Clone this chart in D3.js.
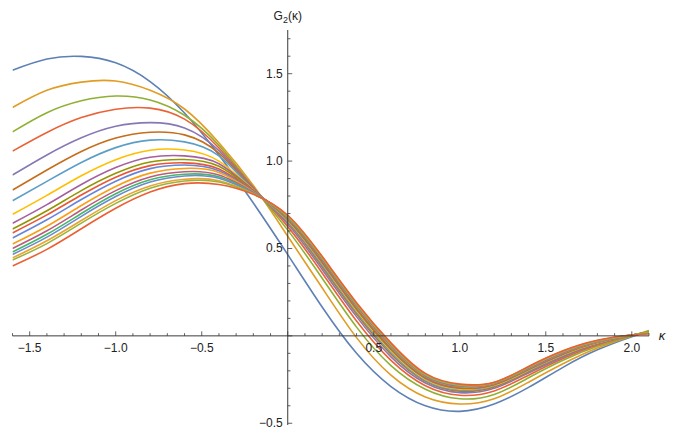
<!DOCTYPE html>
<html><head><meta charset="utf-8">
<script src="https://cdn.jsdelivr.net/npm/d3@7"></script>
<style>html,body{margin:0;padding:0;background:#fff;} svg{display:block;}</style>
</head><body><svg id="chart" width="673" height="429"></svg>
<script>
const kappa = [-1.6,-1.4,-1.2,-1.0,-0.8,-0.6,-0.4,-0.2,0,0.2,0.4,0.6,0.8,1.0,1.2,1.4,1.6,1.8,2.0,2.1];
const g1  = [1.52,1.584,1.599,1.562,1.455,1.275,1.035,0.76,0.465,0.165,-0.10,-0.29,-0.40,-0.432,-0.39,-0.295,-0.18,-0.08,-0.005,0.025];
const g2  = [1.307,1.405,1.452,1.458,1.405,1.298,1.105,0.86,0.57,0.275,-0.01,-0.225,-0.35,-0.39,-0.36,-0.265,-0.16,-0.07,0.0,0.025];
const g3  = [1.167,1.277,1.345,1.372,1.35,1.262,1.09,0.85,0.605,0.33,0.05,-0.17,-0.305,-0.36,-0.335,-0.24,-0.14,-0.06,0.0,0.03];
const g4  = [1.057,1.164,1.249,1.297,1.303,1.24,1.075,0.848,0.625,0.36,0.085,-0.14,-0.285,-0.34,-0.315,-0.225,-0.13,-0.052,0.002,0.022];
const g5  = [0.92,1.035,1.133,1.199,1.22,1.19,1.06,0.845,0.64,0.38,0.11,-0.12,-0.27,-0.325,-0.30,-0.212,-0.122,-0.047,0.003,0.02];
const g6  = [0.834,0.949,1.055,1.132,1.165,1.15,1.045,0.84,0.65,0.395,0.125,-0.105,-0.26,-0.316,-0.292,-0.205,-0.115,-0.043,0.003,0.02];
const g7  = [0.773,0.884,0.992,1.077,1.12,1.11,1.03,0.835,0.655,0.405,0.135,-0.095,-0.255,-0.31,-0.287,-0.2,-0.111,-0.041,0.004,0.018];
const g8  = [0.695,0.804,0.916,1.008,1.062,1.063,1.0,0.835,0.66,0.415,0.145,-0.085,-0.248,-0.304,-0.283,-0.196,-0.108,-0.039,0.004,0.018];
const g9  = [0.644,0.751,0.866,0.963,1.022,1.03,0.985,0.833,0.665,0.42,0.152,-0.078,-0.243,-0.30,-0.279,-0.193,-0.105,-0.037,0.004,0.017];
const g10 = [0.611,0.716,0.831,0.93,0.995,1.009,0.97,0.83,0.668,0.425,0.157,-0.073,-0.239,-0.297,-0.277,-0.191,-0.103,-0.036,0.004,0.017];
const g11 = [0.589,0.692,0.806,0.908,0.974,0.99,0.955,0.828,0.672,0.43,0.162,-0.068,-0.236,-0.294,-0.275,-0.189,-0.101,-0.035,0.004,0.016];
const g12 = [0.56,0.664,0.78,0.885,0.957,0.978,0.945,0.826,0.675,0.435,0.166,-0.064,-0.233,-0.291,-0.273,-0.187,-0.099,-0.034,0.004,0.016];
const g13 = [0.525,0.627,0.746,0.855,0.931,0.958,0.935,0.823,0.677,0.438,0.17,-0.06,-0.23,-0.289,-0.272,-0.185,-0.097,-0.033,0.004,0.016];
const g14 = [0.50,0.601,0.72,0.831,0.909,0.939,0.92,0.82,0.679,0.44,0.173,-0.057,-0.228,-0.287,-0.271,-0.184,-0.095,-0.032,0.004,0.015];
const g15 = [0.48,0.581,0.70,0.813,0.893,0.925,0.91,0.818,0.681,0.443,0.176,-0.054,-0.226,-0.285,-0.27,-0.182,-0.093,-0.031,0.005,0.015];
const g16 = [0.466,0.565,0.684,0.797,0.88,0.915,0.902,0.816,0.683,0.446,0.179,-0.051,-0.224,-0.283,-0.269,-0.181,-0.091,-0.03,0.005,0.015];
const g17 = [0.446,0.544,0.66,0.774,0.858,0.896,0.888,0.813,0.685,0.448,0.182,-0.048,-0.222,-0.281,-0.268,-0.179,-0.089,-0.028,0.005,0.014];
const g18 = [0.434,0.528,0.645,0.758,0.845,0.886,0.88,0.811,0.687,0.45,0.185,-0.045,-0.22,-0.279,-0.267,-0.177,-0.087,-0.027,0.005,0.02];
const g19 = [0.40,0.495,0.613,0.73,0.823,0.871,0.866,0.81,0.69,0.455,0.19,-0.04,-0.215,-0.276,-0.265,-0.175,-0.085,-0.025,0.005,0.012];
const seriesList = [g1,g2,g3,g4,g5,g6,g7,g8,g9,g10,g11,g12,g13,g14,g15,g16,g17,g18,g19];
const colors = ["#5E81B5","#E19C24","#8FB032","#EB6235","#8778B3","#C56E1A","#5D9EC7","#FFBF00","#A5609D","#929600","#E95536","#6685D9","#F89F13","#BC5B80","#47B66D","#6b8cc9","#e8a330","#9ab43a","#ec5f35"];
const xMajor = [-1.5,-1.0,-0.5,0.5,1.0,1.5,2.0];
const yMajor = [-0.5,0.5,1.0,1.5];
const xLabel = "κ";

const svg = d3.select("#chart");
const x = d3.scaleLinear().domain([-1.6, 2.1]).range([12.5, 649]);
const y = d3.scaleLinear().domain([-0.51, 1.75]).range([425, 30]);
const axisColor = "#3a3a3a";
const textColor = "#222";
const font = "Liberation Sans, Arial, sans-serif";

svg.append("defs").append("clipPath").attr("id","clip")
  .append("rect").attr("x", x(-1.6)).attr("y", y(1.75)).attr("width", x(2.1)-x(-1.6)).attr("height", y(-0.51)-y(1.75));

const line = d3.line().x((d,i)=>x(kappa[i])).y(d=>y(d)).curve(d3.curveNatural);
const g = svg.append("g").attr("clip-path","url(#clip)");
seriesList.forEach((s,i)=>{
  g.append("path").attr("d", line(s)).attr("fill","none").attr("stroke", colors[i]).attr("stroke-width",1.6).attr("stroke-linejoin","round");
});

// x axis
const fmt = v => (v<0? "\u2212" : "") + Math.abs(v).toFixed(1);
const xAxisG = svg.append("g").attr("transform", `translate(0,${y(0)})`);
xAxisG.append("line").attr("x1", x(-1.6)).attr("x2", x(2.1)).attr("stroke", axisColor).attr("stroke-width",1);
const xMinor = d3.range(-16, 22).map(v=>v/10);
xMinor.forEach(v=>{
  const major = Math.abs(v*2 - Math.round(v*2)) < 1e-9;
  xAxisG.append("line").attr("x1", x(v)).attr("x2", x(v)).attr("y1",0).attr("y2", major? -4.5 : -2.7).attr("stroke", axisColor).attr("stroke-width",0.8);
});
xMajor.forEach(v=>{
  xAxisG.append("text").attr("x", x(v)).attr("y", 16).attr("text-anchor","middle")
    .attr("font-family",font).attr("font-size",12).attr("fill",textColor).text(fmt(v));
});
xAxisG.append("text").attr("x", 662).attr("y", 4).attr("text-anchor","middle")
  .attr("font-family",font).attr("font-size",13).attr("font-style","italic").attr("fill",textColor).text(xLabel);

// y axis
const yAxisG = svg.append("g").attr("transform", `translate(${x(0)},0)`);
yAxisG.append("line").attr("y1", y(-0.51)).attr("y2", y(1.75)).attr("stroke", axisColor).attr("stroke-width",1);
const yMinor = d3.range(-5, 18).map(v=>v/10);
yMinor.forEach(v=>{
  const major = Math.abs(v*2 - Math.round(v*2)) < 1e-9;
  yAxisG.append("line").attr("x1",0).attr("x2", major? 4.5 : 2.7).attr("y1", y(v)).attr("y2", y(v)).attr("stroke", axisColor).attr("stroke-width",0.8);
});
yMajor.forEach(v=>{
  yAxisG.append("text").attr("x", -5).attr("y", y(v)+4).attr("text-anchor","end")
    .attr("font-family",font).attr("font-size",12).attr("fill",textColor).text(fmt(v));
});
const yl = yAxisG.append("text").attr("x", 0).attr("y", 20).attr("text-anchor","middle")
  .attr("font-family",font).attr("font-size",12).attr("fill",textColor);
yl.append("tspan").text("G");
yl.append("tspan").attr("font-size",9).attr("dy",3).text("2");
yl.append("tspan").attr("dy",-3).text("(κ)");
</script></body></html>
